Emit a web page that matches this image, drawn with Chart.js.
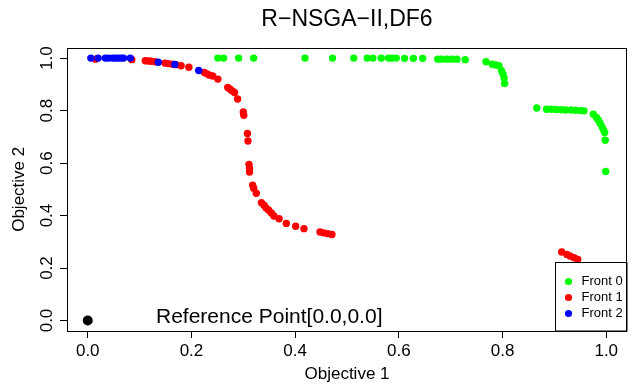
<!DOCTYPE html>
<html>
<head>
<meta charset="utf-8">
<script src="https://cdn.jsdelivr.net/npm/chart.js@4.4.1/dist/chart.umd.min.js"></script>
<style>
  html, body { margin: 0; padding: 0; background: #fff; }
  #wrap { width: 632px; height: 389px; }
</style>
</head>
<body>
<div id="wrap"><canvas id="chart" width="632" height="389"></canvas></div>
<script>
// R-NSGA-II on DF6, three fronts plus the reference point

const front0X = [0.251, 0.262, 0.291, 0.320, 0.419, 0.472, 0.513, 0.539, 0.550, 0.566,
  0.580, 0.587, 0.595, 0.611, 0.628, 0.646, 0.675, 0.683, 0.693, 0.702, 0.712, 0.728,
  0.768, 0.780, 0.786, 0.793, 0.798, 0.801, 0.803, 0.804,
  0.866, 0.885, 0.894, 0.903, 0.913, 0.922, 0.932, 0.941, 0.951, 0.957,
  0.975, 0.981, 0.985, 0.988, 0.992, 0.995, 0.997, 0.998, 0.999];
const front0Y = [1.000, 1.000, 1.000, 1.000, 1.000, 1.000, 1.000, 1.000, 1.000, 1.000,
  1.000, 1.000, 1.000, 0.999, 0.999, 0.999, 0.996, 0.996, 0.996, 0.996, 0.996, 0.994,
  0.986, 0.977, 0.974, 0.971, 0.952, 0.939, 0.924, 0.903,
  0.810, 0.805, 0.805, 0.804, 0.803, 0.802, 0.802, 0.801, 0.800, 0.799,
  0.786, 0.774, 0.763, 0.752, 0.737, 0.725, 0.716, 0.687, 0.568];

const front1X = [0.015, 0.085, 0.111, 0.117, 0.122, 0.130, 0.149, 0.155, 0.163, 0.170,
  0.180, 0.195, 0.225, 0.230, 0.235, 0.241, 0.251, 0.270, 0.274, 0.278, 0.283, 0.289,
  0.300, 0.301, 0.308, 0.309, 0.311, 0.312, 0.312, 0.318, 0.320, 0.325,
  0.335, 0.340, 0.344, 0.349, 0.354, 0.359, 0.369, 0.383, 0.401, 0.417,
  0.448, 0.455, 0.463, 0.471,
  0.914, 0.924, 0.930, 0.938, 0.945];
const front1Y = [0.996, 0.994, 0.990, 0.989, 0.988, 0.986, 0.981, 0.979, 0.977, 0.975,
  0.971, 0.965, 0.945, 0.940, 0.935, 0.932, 0.920, 0.888, 0.882, 0.876, 0.869, 0.844,
  0.795, 0.782, 0.713, 0.684, 0.595, 0.580, 0.566, 0.516, 0.504, 0.485,
  0.449, 0.439, 0.429, 0.420, 0.410, 0.398, 0.388, 0.370, 0.359, 0.350,
  0.337, 0.334, 0.331, 0.328,
  0.261, 0.252, 0.246, 0.239, 0.233];

const front2X = [0.006, 0.020, 0.034, 0.040, 0.048, 0.054, 0.059, 0.065, 0.069, 0.082,
  0.136, 0.168, 0.214];
const front2Y = [1.000, 1.000, 1.000, 1.000, 1.000, 1.000, 1.000, 1.000, 1.000, 1.000,
  0.984, 0.976, 0.953];

const refPoint = [0.0, 0.0];
const refLabel = 'Reference Point[0.0,0.0]';

const xTicks = [0.0, 0.2, 0.4, 0.6, 0.8, 1.0];
const yTicks = [0.0, 0.2, 0.4, 0.6, 0.8, 1.0];

const legendNames = ['Front 0', 'Front 1', 'Front 2'];
const frontColors = ['#00ff00', '#ff0000', '#0000ff'];

const FONT = "'Liberation Sans', Arial, Helvetica, sans-serif";

function toPoints(xs, ys) {
  return xs.map((x, i) => ({ x: x, y: ys[i] }));
}

// box around the plot, reference label and the inset legend
const decorations = {
  id: 'decorations',
  afterDatasetsDraw(chart) {
    const ctx = chart.ctx;
    const area = chart.chartArea;
    const xs = chart.scales.x;
    const ys = chart.scales.y;
    ctx.save();

    ctx.fillStyle = '#000';
    ctx.font = '21px ' + FONT;
    ctx.textAlign = 'center';
    ctx.textBaseline = 'middle';
    ctx.fillText(refLabel, xs.getPixelForValue(0.350), ys.getPixelForValue(0.013));

    // legend in the bottom right corner
    const lx = 555.5, ly = 262.5, lw = area.right - lx, lh = area.bottom - ly;
    ctx.fillStyle = '#fff';
    ctx.fillRect(lx, ly, lw, lh);
    ctx.strokeStyle = '#000';
    ctx.lineWidth = 1;
    ctx.strokeRect(lx, ly, lw, lh);
    ctx.font = '13px ' + FONT;
    ctx.textAlign = 'left';
    legendNames.forEach((name, i) => {
      const y = 281.5 + i * 16;
      ctx.fillStyle = frontColors[i];
      ctx.beginPath();
      ctx.arc(568.5, y, 3.6, 0, Math.PI * 2);
      ctx.fill();
      ctx.fillStyle = '#000';
      ctx.fillText(name, 581.5, y);
    });

    ctx.strokeStyle = '#000';
    ctx.lineWidth = 1;
    ctx.strokeRect(Math.round(area.left) + 0.5, Math.round(area.top) + 0.5,
      Math.round(area.right - area.left) - 1, Math.round(area.bottom - area.top));
    ctx.restore();
  }
};

new Chart(document.getElementById('chart'), {
  type: 'scatter',
  data: {
    datasets: [
      { label: legendNames[0], data: toPoints(front0X, front0Y), backgroundColor: frontColors[0],
        borderWidth: 0, pointRadius: 3.7, order: 3 },
      { label: legendNames[1], data: toPoints(front1X, front1Y), backgroundColor: frontColors[1],
        borderWidth: 0, pointRadius: 3.7, order: 2 },
      { label: legendNames[2], data: toPoints(front2X, front2Y), backgroundColor: frontColors[2],
        borderWidth: 0, pointRadius: 3.7, order: 1 },
      { label: 'Reference', data: [{ x: refPoint[0], y: refPoint[1] }], backgroundColor: '#000',
        borderWidth: 0, pointRadius: 5, order: 0 }
    ]
  },
  options: {
    responsive: false,
    animation: false,
    devicePixelRatio: 1,
    layout: { padding: { left: 0, right: 1, top: 0, bottom: 0 } },
    scales: {
      x: {
        type: 'linear',
        min: -0.04,
        max: 1.04,
        afterBuildTicks: s => { s.ticks = xTicks.map(v => ({ value: v })); },
        afterFit: s => { s.height = 58; },
        border: { display: false },
        grid: { drawOnChartArea: false, drawTicks: true, tickLength: 7, color: '#000', tickColor: '#000' },
        ticks: {
          color: '#000',
          padding: 3,
          maxRotation: 0,
          font: { family: FONT, size: 17 },
          callback: v => v.toFixed(1)
        },
        title: { display: true, text: 'Objective 1', color: '#000',
          font: { family: FONT, size: 17 }, padding: { top: 4, bottom: 4 } }
      },
      y: {
        type: 'linear',
        min: -0.04,
        max: 1.04,
        afterBuildTicks: s => { s.ticks = yTicks.map(v => ({ value: v })); },
        afterFit: s => { s.width = 67; },
        border: { display: false },
        grid: { drawOnChartArea: false, drawTicks: true, tickLength: 7, color: '#000', tickColor: '#000' },
        ticks: {
          color: '#000',
          padding: 1,
          minRotation: 90,
          maxRotation: 90,
          crossAlign: 'center',
          font: { family: FONT, size: 17 },
          callback: v => v.toFixed(1)
        },
        title: { display: true, text: 'Objective 2', color: '#000',
          font: { family: FONT, size: 17 }, padding: { top: 9, bottom: 4 } }
      }
    },
    plugins: {
      legend: { display: false },
      tooltip: { enabled: false },
      title: {
        display: true,
        fullSize: false,
        text: 'R\u2212NSGA\u2212II,DF6',
        color: '#000',
        font: { family: FONT, size: 23, weight: 'normal' },
        padding: { top: 6, bottom: 14 }
      }
    }
  },
  plugins: [decorations]
});
</script>
</body>
</html>
